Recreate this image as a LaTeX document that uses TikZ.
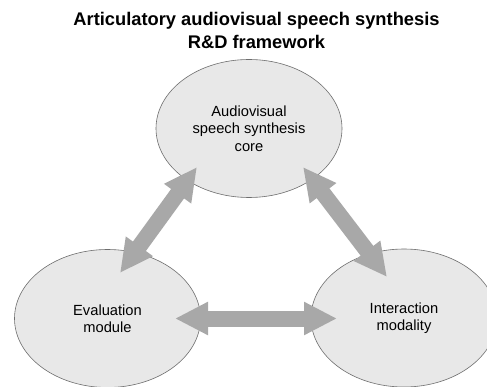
\documentclass[tikz,border=0pt]{standalone}
\usepackage{fontspec}
\setmainfont{Liberation Sans}
\usetikzlibrary{shapes.geometric,arrows.meta}
\definecolor{bubblefill}{HTML}{E8E8E8}
\definecolor{bubbleline}{HTML}{6E6E6E}
\definecolor{linkgray}{HTML}{A8A8A8}
\tikzset{
  bubble/.style={ellipse, draw=bubbleline, line width=0.6pt, fill=bubblefill,
    minimum width=186pt, minimum height=138pt, inner sep=0pt,
    align=center, font=\fontsize{14.7}{17.5}\selectfont},
  link/.style={draw=linkgray, line width=16pt,
    {Triangle[length=33pt,width=31pt,fill=linkgray]}-{Triangle[length=33pt,width=31pt,fill=linkgray]}},
  heading/.style={align=center, font=\fontsize{18.3}{23.5}\selectfont\bfseries}
}
\begin{document}
\begin{tikzpicture}[x=1pt,y=-1pt]
  \clip (0,0) rectangle (487,387);
  \fill[white] (0,0) rectangle (487,387);

  \node[heading] (title) at (256.5,30.5) {Articulatory audiovisual speech synthesis\\R\&D framework};

  \node[bubble] (core) at (249,128.5) {Audiovisual\\speech synthesis\\core};
  \node[bubble] (eval) at (107.5,318.5) {Evaluation\\module};
  \node[bubble] (inter) at (404,318) {Interaction\\modality};

  % arrow end points lying inside the bubbles
  \coordinate (coreL) at (197,167);
  \coordinate (evalT) at (120,273);
  \coordinate (coreR) at (303,167);
  \coordinate (interT) at (387,277);
  \coordinate (evalR) at (175,318.5);
  \coordinate (interL) at (337,318.5);

  \draw[link] (evalT) -- (coreL);
  \draw[link] (coreR) -- (interT);
  \draw[link] (evalR) -- (interL);
\end{tikzpicture}
\end{document}
